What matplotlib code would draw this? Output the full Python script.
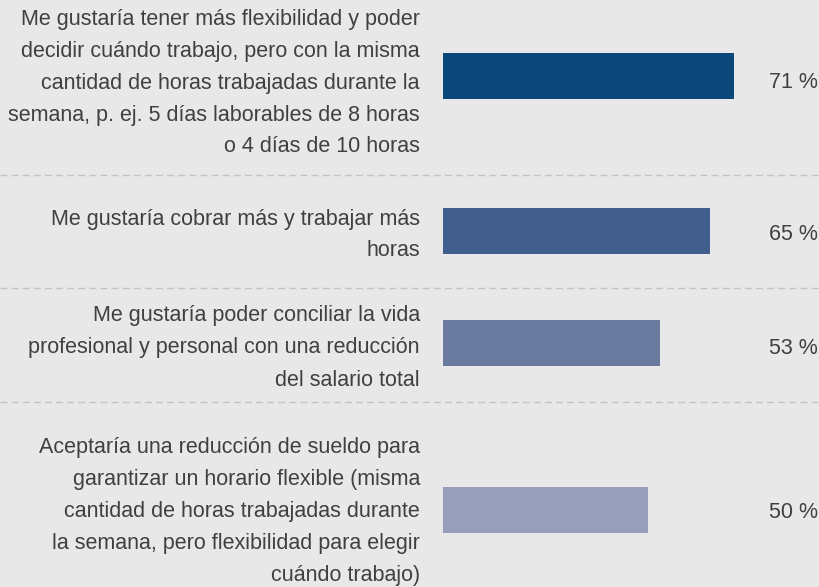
from matplotlib import pyplot as plt
import numpy as np

labels = [
    "Me gustaría tener más flexibilidad y poder\ndecidir cuándo trabajo, pero con la misma\ncantidad de horas trabajadas durante la\nsemana, p. ej. 5 días laborables de 8 horas\no 4 días de 10 horas",
    "Me gustaría cobrar más y trabajar más\nhoras",
    "Me gustaría poder conciliar la vida\nprofesional y personal con una reducción\ndel salario total",
    "Aceptaría una reducción de sueldo para\ngarantizar un horario flexible (misma\ncantidad de horas trabajadas durante\nla semana, pero flexibilidad para elegir\ncuándo trabajo)",
]
values = [71, 65, 53, 50]
colors = ["#0b4778", "#425e8c", "#6b7ba0", "#969eba"]

# layout (pixels, figure 820x587)
W, H = 820, 587
bar_left = 443
px_per_pct = 4.1
bar_centers = [76, 231, 343, 510]
text_centers = [81, 233, 346, 510]
bar_h = 46
separators = [175, 288, 402]
line_gap = 32
label_right = 420
value_right = 818

bg = "#e8e8e8"
txt = "#404040"
plt.rcParams['font.family'] = ['Liberation Sans', 'DejaVu Sans']

fig = plt.figure(figsize=(W / 100, H / 100), dpi=100, facecolor=bg)
ax = fig.add_axes([0, 0, 1, 1])
ax.set_facecolor(bg)
ax.set_xlim(-bar_left / px_per_pct, (W - bar_left) / px_per_pct)
ax.set_ylim(H, 0)
ax.axis("off")

ax.barh(bar_centers, values, height=bar_h, color=colors, left=0)

for s in separators:
    ax.axhline(s, color="#c4c4c4", lw=1, linestyle=(0, (5, 3)))

fs = 15.5
lx = (label_right - bar_left) / px_per_pct
vx = (value_right - bar_left) / px_per_pct
for lab, v, tc in zip(labels, values, text_centers):
    lines = lab.split("\n")
    n = len(lines)
    for i, ln in enumerate(lines):
        y = tc + (i - (n - 1) / 2) * line_gap
        ax.text(lx, y + 7.5, ln, ha="right", va="baseline", fontsize=fs, color=txt)
    ax.text(vx, tc + 7.5, f"{v} %", ha="right", va="baseline", fontsize=fs, color=txt)

fig.savefig("out.png", dpi=100, facecolor=bg)
